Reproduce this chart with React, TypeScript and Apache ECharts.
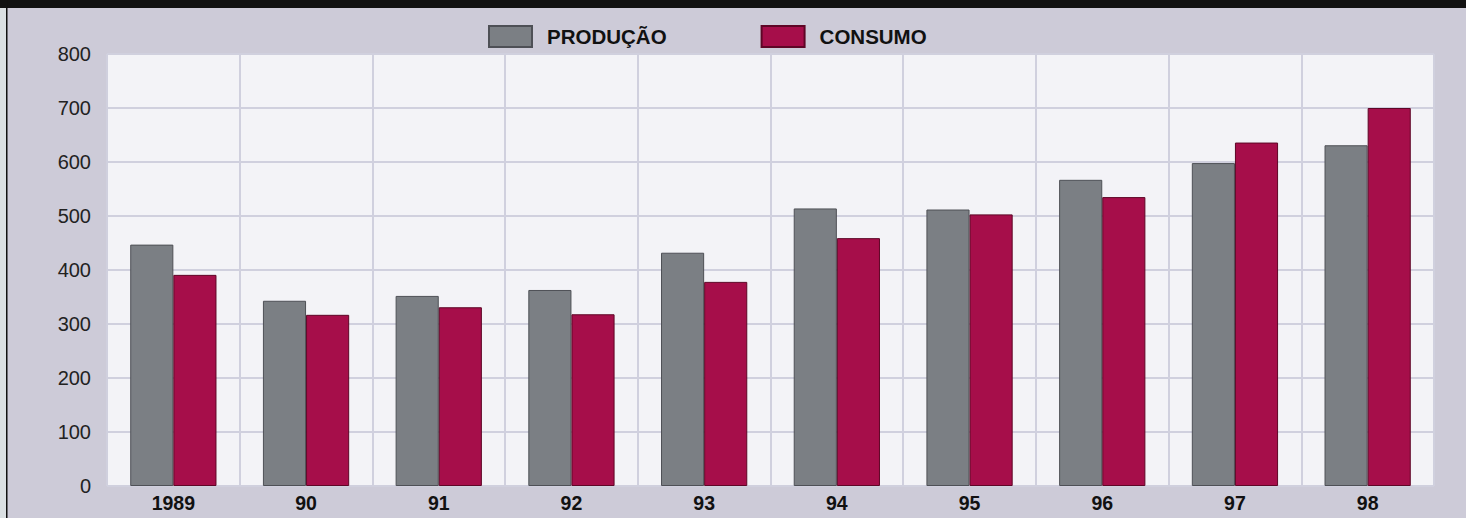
import React, { useEffect, useRef } from "react";
import * as echarts from "echarts";

const categories = ["1989", "90", "91", "92", "93", "94", "95", "96", "97", "98"];
const producao = [447, 343, 352, 363, 432, 514, 512, 567, 598, 631];
const consumo = [391, 317, 331, 318, 378, 459, 503, 535, 636, 700];
const seriesNames = ["PRODUÇÃO", "CONSUMO"];

export default function App() {
  const ref = useRef<HTMLDivElement>(null);
  useEffect(() => {
    document.body.style.margin = "0";
    const chart = echarts.init(ref.current!, undefined, { renderer: "svg" });
    chart.setOption({
      animation: false,
      backgroundColor: "#cdcbd8",
      textStyle: { fontFamily: "Liberation Sans, Arial, sans-serif" },
      graphic: [
        { type: "rect", left: 0, top: 0, shape: { width: 1466, height: 8 }, style: { fill: "#111111" }, z: 100 },
        { type: "rect", left: 0, top: 8, shape: { width: 6, height: 510 }, style: { fill: "#dadfe2" }, z: 100 },
        { type: "rect", left: 6, top: 0, shape: { width: 1.5, height: 518 }, style: { fill: "#111111" }, z: 100 },
      ],
      legend: {
        left: 483,
        top: 20,
        itemWidth: 43,
        itemHeight: 21,
        itemGap: 94,
        icon: "rect",
        data: seriesNames,
        textStyle: {
          fontFamily: "Liberation Sans, Arial, sans-serif",
          fontWeight: "bold",
          fontSize: 20.5,
          color: "#111111",
          padding: [0, 0, 0, 10],
        },
      },
      grid: {
        left: 107,
        right: 32,
        top: 54,
        bottom: 32,
        show: true,
        backgroundColor: "#f3f3f7",
        borderWidth: 0,
      },
      xAxis: {
        type: "category",
        data: categories,
        axisLine: { show: false },
        axisTick: { show: false },
        axisLabel: {
          color: "#111111",
          fontWeight: "bold",
          fontSize: 19.5,
          margin: 7,
          fontFamily: "Liberation Sans, Arial, sans-serif",
        },
        splitLine: { show: true, interval: 0, lineStyle: { color: "#d0d0de", width: 2 } },
      },
      yAxis: {
        type: "value",
        min: 0,
        max: 800,
        interval: 100,
        axisLine: { show: false },
        axisTick: { show: false },
        axisLabel: {
          color: "#222222",
          fontSize: 20,
          margin: 16,
          fontFamily: "Liberation Sans, Arial, sans-serif",
        },
        splitLine: { show: true, lineStyle: { color: "#d0d0de", width: 2 } },
      },
      series: [
        {
          name: seriesNames[0],
          type: "bar",
          data: producao,
          barGap: "0%",
          barCategoryGap: "35%",
          itemStyle: { color: "#7b7f84", borderColor: "#4e5056", borderWidth: 1 },
        },
        {
          name: seriesNames[1],
          type: "bar",
          data: consumo,
          barGap: "0%",
          barCategoryGap: "35%",
          itemStyle: { color: "#a60e4a", borderColor: "#5e0626", borderWidth: 1 },
        },
      ],
    });
    return () => chart.dispose();
  }, []);
  return <div ref={ref} style={{ width: 1466, height: 518 }} />;
}
